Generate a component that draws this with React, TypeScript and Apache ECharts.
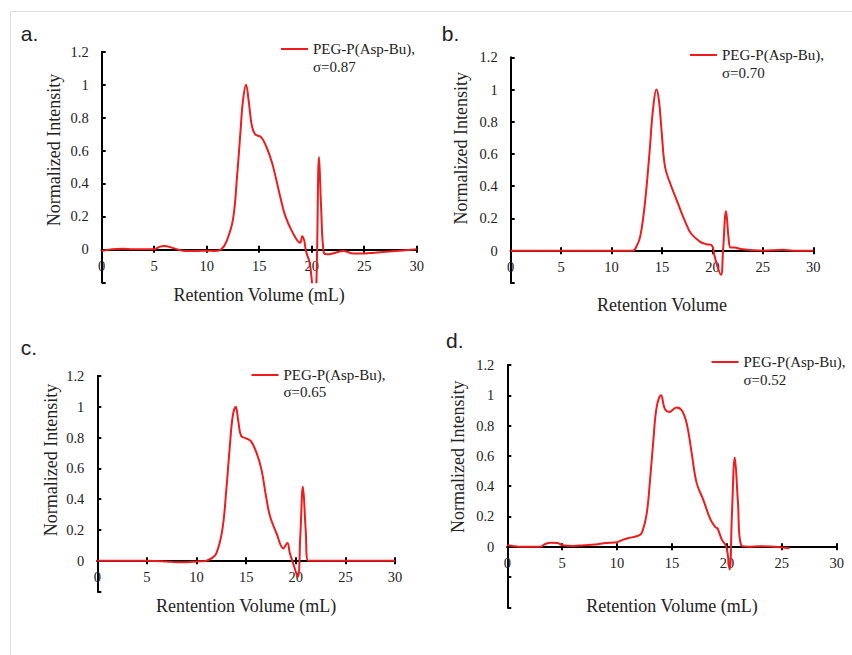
import React, { useEffect, useRef } from 'react';
import * as echarts from 'echarts';

// ---------------- data ----------------
const SERIES_NAME = 'PEG-P(Asp-Bu),';
const PANEL_LABELS = ['a.', 'b.', 'c.', 'd.'];
const SIGMA_LABELS = ['σ=0.87', 'σ=0.70', 'σ=0.65', 'σ=0.52'];
const X_TITLES = ['Retention Volume (mL)', 'Retention Volume', 'Rentention Volume (mL)', 'Retention Volume (mL)'];
const Y_TITLE = 'Normalized Intensity';
const X_MIN = 0;
const X_MAX = 30;
const X_STEP = 5;
const Y_MAX = 1.2;
const Y_STEP = 0.2;
const Y_MINS = [-0.2, -0.2, -0.2, -0.4];

// [retention volume (mL), normalized intensity]
const curveA: number[][] = [
  [0, -0.01], [1, 0], [2, 0.003], [3, 0], [4, 0], [5, 0], [5.5, 0.015], [6, 0.02], [6.6, 0.012], [7.2, 0],
  [8, -0.01], [9, -0.01], [10, -0.008], [10.8, -0.01], [11.4, 0], [11.9, 0.05], [12.5, 0.18], [12.9, 0.45],
  [13.2, 0.7], [13.45, 0.9], [13.75, 1.0], [14.0, 0.9], [14.3, 0.75], [14.6, 0.7], [15.2, 0.68], [15.7, 0.62],
  [16.2, 0.53], [16.6, 0.43], [17.0, 0.32], [17.5, 0.2], [18.2, 0.1], [18.9, 0.04], [19.1, 0.08], [19.3, 0.05],
  [19.45, -0.01], [19.8, -0.08], [20.05, -0.22], [20.25, -0.4], [20.45, -0.2], [20.7, 0.56], [20.9, 0.25],
  [21.15, -0.02], [21.5, -0.03], [22, -0.025], [23, -0.01], [24, -0.025], [25, -0.025], [26, -0.02], [28, -0.01], [30, 0],
];
const curveB: number[][] = [
  [0, 0], [5, 0], [10, 0], [12.1, 0], [12.5, 0.03], [12.85, 0.09], [13.3, 0.29], [13.75, 0.6], [14.1, 0.87],
  [14.45, 1.0], [14.7, 0.93], [14.95, 0.75], [15.3, 0.52], [15.8, 0.42], [16.6, 0.29], [17.3, 0.18], [17.9, 0.105],
  [18.8, 0.055], [19.4, 0.04], [19.9, 0.035], [20.2, -0.03], [20.5, -0.1], [20.85, -0.15], [21.05, 0], [21.35, 0.245],
  [21.6, 0.08], [21.8, 0.02], [22.2, 0.02], [22.8, 0.01], [24, 0.003], [25, 0], [27, 0.005], [28, 0], [30, 0],
];
const curveC: number[][] = [
  [0, 0], [5, 0], [7, -0.005], [8, -0.01], [9, -0.01], [10, -0.005], [11, 0], [11.5, 0.015], [12, 0.048],
  [12.6, 0.2], [13.0, 0.46], [13.35, 0.74], [13.65, 0.94], [13.95, 1.0], [14.2, 0.91], [14.5, 0.81], [15.0, 0.795],
  [15.5, 0.775], [16.05, 0.7], [16.55, 0.59], [17.0, 0.42], [17.4, 0.29], [18.05, 0.18], [18.75, 0.08], [19.15, 0.115],
  [19.4, 0.05], [19.75, -0.02], [20.2, -0.105], [20.45, 0.15], [20.72, 0.48], [21.0, 0.2], [21.25, 0], [22, 0], [25, 0], [30, 0],
];
const curveD: number[][] = [
  [0, 0.01], [0.5, 0.005], [1, 0], [2, 0], [3, 0], [3.5, 0.02], [4, 0.026], [4.6, 0.024], [5, 0.01], [6, 0.005],
  [7, 0.01], [8, 0.015], [9, 0.025], [10, 0.03], [10.5, 0.045], [11.2, 0.06], [12.0, 0.075], [12.3, 0.1], [12.7, 0.22],
  [13.0, 0.44], [13.3, 0.7], [13.6, 0.92], [14.0, 1.0], [14.35, 0.91], [14.75, 0.89], [15.4, 0.92], [15.9, 0.9],
  [16.35, 0.81], [16.8, 0.615], [17.25, 0.42], [17.85, 0.31], [18.5, 0.18], [18.95, 0.13], [19.15, 0.12], [19.55, 0.045],
  [19.95, 0], [20.25, -0.15], [20.45, 0.2], [20.72, 0.59], [21.0, 0.3], [21.3, 0.01], [22, 0], [23, 0.003], [24, 0.002],
  [25, -0.005], [25.7, -0.01],
];
const CURVES = [curveA, curveB, curveC, curveD];

// ---------------- layout ----------------
const GRIDS = [
  { left: 101.7, top: 51.7, width: 315, height: 230.6 },
  { left: 510.7, top: 57.3, width: 302.6, height: 225.6 },
  { left: 97.3, top: 376, width: 297.7, height: 215.5 },
  { left: 507.3, top: 365, width: 329.4, height: 242.3 },
];
const X_NAME_GAPS = [37, 45, 36, 50];
const Y_NAME_POS = [[54, 150], [460.5, 148.3], [50.8, 460], [457.5, 456.7]];
const LEGEND_POS = [[281, 41.5], [690, 47.5], [251.5, 367.5], [711.5, 354.5]];
const SIGMA_POS = [[313, 67], [722, 73.3], [283.5, 392], [743.5, 380]];
const LABEL_POS = [[20.7, 33], [441.7, 33], [20.7, 347], [446, 340]];

const SERIF = 'Liberation Serif';
const SANS = 'Liberation Sans';
const RED = '#ee1c1c';
const INK = '#222';

function buildOption() {
  const grid: any[] = [];
  const xAxis: any[] = [];
  const yAxis: any[] = [];
  const series: any[] = [];
  const legend: any[] = [];
  const graphic: any[] = [];

  graphic.push({
    type: 'rect',
    shape: { x: 10.5, y: 11.5, width: 900, height: 700 },
    style: { fill: 'none', stroke: '#dcdcdc', lineWidth: 1 },
    silent: true,
    z: -10,
  });

  CURVES.forEach((curve, i) => {
    const g = GRIDS[i];
    grid.push({ ...g, containLabel: false });
    const yMin = Y_MINS[i];
    // distance (px) of the value-0 line from the grid's bottom / top edge
    const zeroFromBottom = (g.height * (0 - yMin)) / (Y_MAX - yMin);
    const zeroFromTop = g.height - zeroFromBottom;
    const common = {
      type: 'value',
      gridIndex: i,
      min: X_MIN,
      max: X_MAX,
      interval: X_STEP,
      splitLine: { show: false },
    };
    // bottom axis: labels + downward half of the crossing ticks
    xAxis.push({
      ...common,
      position: 'bottom',
      offset: -zeroFromBottom,
      name: X_TITLES[i],
      nameLocation: 'middle',
      nameGap: X_NAME_GAPS[i],
      nameTextStyle: { fontFamily: SERIF, fontSize: 18, color: INK },
      axisLine: { onZero: false, lineStyle: { color: '#000', width: 2 } },
      axisTick: { show: true, inside: false, length: 3.5, lineStyle: { color: '#000', width: 2 } },
      axisLabel: { fontFamily: SERIF, fontSize: 14.5, color: INK, margin: 9 },
    });
    // overlay axis: upward half of the crossing ticks
    xAxis.push({
      ...common,
      position: 'top',
      offset: -zeroFromTop,
      axisLine: { onZero: false, lineStyle: { color: '#000', width: 2 } },
      axisTick: { show: true, inside: false, length: 3.5, lineStyle: { color: '#000', width: 2 } },
      axisLabel: { show: false },
    });
    yAxis.push({
      type: 'value',
      gridIndex: i,
      min: yMin,
      max: Y_MAX,
      interval: Y_STEP,
      splitLine: { show: false },
      axisLine: { show: true, onZero: false, lineStyle: { color: '#000', width: 2 } },
      axisTick: { show: true, inside: true, length: 4, lineStyle: { color: '#000', width: 2 } },
      axisLabel: {
        fontFamily: SERIF,
        fontSize: 14.5,
        color: INK,
        margin: 13,
        formatter: (v: number) => (v < -1e-9 ? '' : String(Math.round(v * 10) / 10)),
      },
    });
    series.push({
      name: SERIES_NAME,
      type: 'line',
      xAxisIndex: i * 2,
      yAxisIndex: i,
      data: curve,
      showSymbol: false,
      symbol: 'none',
      smooth: 0.4,
      clip: true,
      lineStyle: { color: RED, width: 2 },
      itemStyle: { color: RED },
    });
    legend.push({
      data: [{ name: SERIES_NAME, icon: 'rect' }],
      left: LEGEND_POS[i][0],
      top: LEGEND_POS[i][1],
      padding: 0,
      itemWidth: 27,
      itemHeight: 2,
      selectedMode: false,
      textStyle: { fontFamily: SERIF, fontSize: 15, color: INK },
    });
    graphic.push({
      type: 'text',
      x: SIGMA_POS[i][0],
      y: SIGMA_POS[i][1],
      style: { text: SIGMA_LABELS[i], font: `15px "${SERIF}"`, fill: INK, verticalAlign: 'middle', align: 'left' },
      silent: true,
    });
    graphic.push({
      type: 'text',
      x: Y_NAME_POS[i][0],
      y: Y_NAME_POS[i][1],
      rotation: Math.PI / 2,
      style: { text: Y_TITLE, font: `18px "${SERIF}"`, fill: INK, verticalAlign: 'middle', align: 'center' },
      silent: true,
    });
    graphic.push({
      type: 'text',
      x: LABEL_POS[i][0],
      y: LABEL_POS[i][1],
      style: { text: PANEL_LABELS[i], font: `21px "${SANS}"`, fill: INK, verticalAlign: 'middle', align: 'left' },
      silent: true,
    });
  });

  return {
    animation: false,
    backgroundColor: '#ffffff',
    grid,
    xAxis,
    yAxis,
    series,
    legend,
    graphic,
  };
}

export default function App() {
  const ref = useRef<HTMLDivElement>(null);
  useEffect(() => {
    if (!ref.current) return;
    const chart = echarts.init(ref.current, undefined, { renderer: 'svg' });
    chart.setOption(buildOption() as any);
    return () => chart.dispose();
  }, []);
  return (
    <div
      ref={ref}
      style={{ position: 'fixed', left: 0, top: 0, width: 852, height: 655, background: '#fff' }}
    />
  );
}
